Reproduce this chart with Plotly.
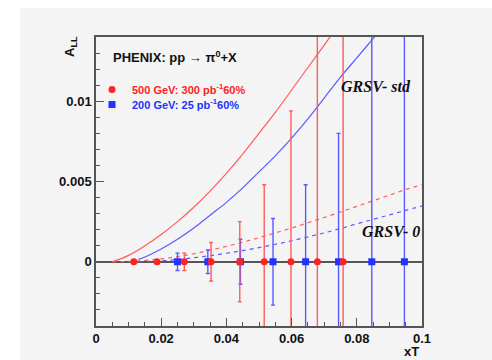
import plotly.graph_objects as go

# --- data -----------------------------------------------------------------
# projected measurement points (x_T) and statistical errors on A_LL
x_500 = [0.0116, 0.0187, 0.0271, 0.0353, 0.0441, 0.0516, 0.0598, 0.0679, 0.0758]
err_500 = [0.0001, 0.0001, 0.00054, 0.0012, 0.0025, 0.0048, 0.0094, 0.018, 0.024]
y_500 = [0.0] * len(x_500)

x_200 = [0.0250, 0.0343, 0.0443, 0.0543, 0.0643, 0.0744, 0.0846, 0.0946]
err_200 = [0.00054, 0.00073, 0.0014, 0.0027, 0.0048, 0.0080, 0.016, 0.025]
y_200 = [0.0] * len(x_200)

# GRSV model predictions
xc_500 = [0.005, 0.010, 0.015, 0.020, 0.025, 0.030, 0.035, 0.040, 0.045,
          0.050, 0.055, 0.060, 0.065, 0.070, 0.075]
std_500 = [0.0, 0.0004, 0.0010, 0.0017, 0.0025, 0.0034, 0.0044, 0.0055, 0.0067,
           0.0080, 0.0093, 0.0107, 0.0121, 0.0135, 0.0149]

xc_200 = [0.013, 0.015, 0.020, 0.025, 0.030, 0.035, 0.040, 0.045, 0.050,
          0.055, 0.060, 0.065, 0.070, 0.075, 0.080, 0.085, 0.090]
std_200 = [0.00015, 0.0003, 0.0008, 0.0014, 0.0021, 0.0029, 0.0037, 0.0046, 0.0056,
           0.0066, 0.0077, 0.0089, 0.0102, 0.0115, 0.0127, 0.0139, 0.0151]

xz_500 = [0.005, 0.010, 0.015, 0.020, 0.025, 0.030, 0.035, 0.040, 0.045, 0.050,
          0.055, 0.060, 0.065, 0.070, 0.075, 0.080, 0.085, 0.090, 0.095, 0.100]
zero_500 = [0.0, 0.00002, 0.00008, 0.00018, 0.00032, 0.0005, 0.00072, 0.00096, 0.00122, 0.0015,
            0.0018, 0.0021, 0.00243, 0.00276, 0.0031, 0.00345, 0.0038, 0.00415, 0.0045, 0.0048]

xz_200 = [0.013, 0.015, 0.020, 0.025, 0.030, 0.035, 0.040, 0.045, 0.050, 0.055,
          0.060, 0.065, 0.070, 0.075, 0.080, 0.085, 0.090, 0.095, 0.100]
zero_200 = [0.0, 0.00001, 0.00006, 0.00014, 0.00025, 0.00038, 0.00053, 0.0007, 0.00088, 0.00109,
            0.00131, 0.00155, 0.0018, 0.00207, 0.00236, 0.00264, 0.00292, 0.0032, 0.00348]

# --- styling --------------------------------------------------------------
RED = "#ff2222"
BLUE = "#2233ff"
RED_LINE = "#ff5c5c"
BLUE_LINE = "#5a5aff"
BG = "#f4f4f4"
FRAME = "#555555"
FONT = "Liberation Sans"

fig = go.Figure()

curve_style = dict(mode="lines", showlegend=False, line_shape="spline")
fig.add_trace(go.Scatter(x=xc_500, y=std_500, line=dict(color=RED_LINE, width=1.2), **curve_style))
fig.add_trace(go.Scatter(x=xc_200, y=std_200, line=dict(color=BLUE_LINE, width=1.2), **curve_style))
fig.add_trace(go.Scatter(x=xz_500, y=zero_500,
                         line=dict(color=RED_LINE, width=1.2, dash="4px,4px"), **curve_style))
fig.add_trace(go.Scatter(x=xz_200, y=zero_200,
                         line=dict(color=BLUE_LINE, width=1.2, dash="4px,4px"), **curve_style))

fig.add_trace(go.Scatter(
    x=x_200, y=y_200, mode="markers", legend="legend2",
    name=f'<b><span style="color:{BLUE}">200 GeV: 25 pb<sup>-1</sup>60%</span></b>',
    marker=dict(symbol="square", size=7, color=BLUE),
    error_y=dict(type="data", array=err_200, color=BLUE_LINE, thickness=1.4, width=2)))
fig.add_trace(go.Scatter(
    x=x_500, y=y_500, mode="markers", legend="legend",
    name=f'<b><span style="color:{RED}">500 GeV: 300 pb<sup>-1</sup>60%</span></b>',
    marker=dict(symbol="circle", size=7, color=RED),
    error_y=dict(type="data", array=err_500, color=RED_LINE, thickness=1.4, width=2)))

# plot frame in pixels
W, H = 492, 360
L, R, T, B = 96, 70, 37, 34
pw, ph = W - L - R, H - T - B


def px(xp):
    return (xp - L) / pw


def py(yp):
    return (H - B - yp) / ph


annotations = [
    dict(text="<b>PHENIX: pp \u2192 \u03c0<sup>0</sup>+X</b>", x=px(111), y=py(57),
         xanchor="left", yanchor="middle", font=dict(size=13, color="#111111", family=FONT)),
    dict(text="<b><i>GRSV- std</i></b>", x=px(413), y=py(86), xanchor="right", yanchor="middle",
         font=dict(size=16, color="#111111", family="Liberation Serif")),
    dict(text="<b><i>GRSV- 0</i></b>", x=px(422), y=py(231), xanchor="right", yanchor="middle",
         font=dict(size=16, color="#111111", family="Liberation Serif")),
    dict(text="<b>A<sub>LL</sub></b>", x=px(71), y=py(47), textangle=-90,
         xanchor="center", yanchor="middle", font=dict(size=13, color="#111111", family=FONT)),
    dict(text="<b>xT</b>", x=px(421), y=py(351), xanchor="right", yanchor="middle",
         font=dict(size=13, color="#111111", family=FONT)),
]
for a in annotations:
    a.update(xref="paper", yref="paper", showarrow=False)

shapes = [
    # white margin strips round the grey canvas
    dict(type="rect", xref="paper", yref="paper", x0=px(-5), x1=px(W + 5), y0=py(8), y1=py(-5),
         fillcolor="white", line=dict(width=0), layer="below"),
    dict(type="rect", xref="paper", yref="paper", x0=px(-5), x1=px(20), y0=py(H + 5), y1=py(-5),
         fillcolor="white", line=dict(width=0), layer="below"),
]

legend_style = dict(xanchor="left", yanchor="top", bgcolor="rgba(0,0,0,0)",
                    font=dict(size=11, family=FONT), itemwidth=30, tracegroupgap=0)

fig.update_layout(
    width=W, height=H,
    margin=dict(l=L, r=R, t=T, b=B, pad=0),
    paper_bgcolor=BG, plot_bgcolor=BG,
    font=dict(family=FONT, color="#111111"),
    annotations=annotations, shapes=shapes,
    legend=dict(x=px(92), y=py(75), **legend_style),
    legend2=dict(x=px(92), y=py(90), **legend_style),
    xaxis=dict(range=[0, 0.1], showgrid=False, zeroline=False,
               showline=True, mirror=True, linecolor=FRAME, linewidth=1.5,
               ticks="inside", ticklen=8, tickcolor=FRAME, tickwidth=1,
               tickmode="array", tickvals=[0, 0.02, 0.04, 0.06, 0.08, 0.1],
               ticktext=["<b>0</b>", "<b>0.02</b>", "<b>0.04</b>", "<b>0.06</b>",
                         "<b>0.08</b>", "<b>0.1</b>"],
               minor=dict(dtick=0.005, ticks="inside", ticklen=4, tickcolor=FRAME),
               tickfont=dict(size=13, family=FONT, color="#111111")),
    yaxis=dict(range=[-0.004, 0.014], showgrid=False,
               zeroline=True, zerolinecolor=FRAME, zerolinewidth=1.5,
               showline=True, mirror=True, linecolor=FRAME, linewidth=1.5,
               ticks="inside", ticklen=8, tickcolor=FRAME, tickwidth=1,
               tickmode="array", tickvals=[0, 0.005, 0.01],
               ticktext=["<b>0</b>", "<b>0.005</b>", "<b>0.01</b>"],
               minor=dict(dtick=0.001, ticks="inside", ticklen=4, tickcolor=FRAME),
               tickfont=dict(size=13, family=FONT, color="#111111")),
)

fig.write_html("out.html")
